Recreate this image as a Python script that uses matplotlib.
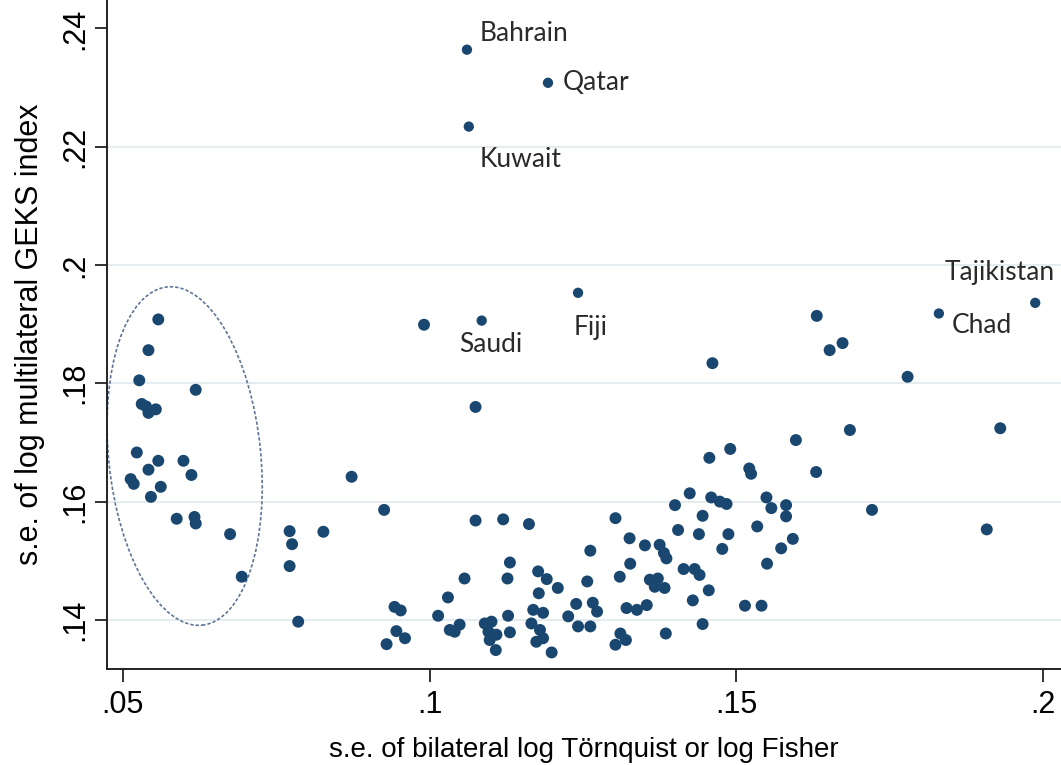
import matplotlib
matplotlib.use("Agg")
import matplotlib.pyplot as plt
from matplotlib import transforms
from matplotlib.patches import Ellipse

# s.e. of bilateral log Tornquist / Fisher (x) vs s.e. of log GEKS index (y)
se_bilateral = [
    # circled low-variance group
    .0558, .0542, .0527, .0619, .0531, .0542, .0554, .0538, .0523, .0558, .0599,
    .0542, .0612, .0513, .0518, .0562, .0546, .0588, .0617, .0619, .0675, .0694,
    # middle
    .0873, .0926, .0772, .0776, .0827, .0772, .0786, .1075, .1120, .1162, .1131,
    .1127, .1057, .1030, .1177, .1191, .1209, .1178, .0943, .0953, .1014, .1128,
    .1169, .1185, .1226, .1239, .0946, .0960, .0930, .1033, .1049, .1041, .1090,
    .1101, .1096, .1109, .1131, .1098, .1108, .1166, .1180, .1174, .1185, .1199,
    .1242, .0991, .1075,
    # right
    .1685, .1597, .1630, .1490, .1456, .1521, .1524, .1424, .1400, .1459, .1473,
    .1484, .1549, .1557, .1581, .1581, .1445, .1303, .1405, .1439, .1487, .1534,
    .1592, .1573, .1477, .1262, .1326, .1351, .1375, .1382, .1386, .1550, .1327,
    .1310, .1414, .1432, .1440, .1257, .1359, .1372, .1367, .1383, .1455, .1429,
    .1514, .1541, .1266, .1273, .1321, .1338, .1354, .1262, .1445, .1311, .1385,
    .1303, .1320, .1673, .1779, .1930, .1721, .1908, .1631, .1652, .1461,
]
se_geks = [
    .1908, .1856, .1805, .1789, .1765, .1750, .1756, .1761, .1683, .1669, .1669,
    .1654, .1645, .1638, .1630, .1625, .1608, .1571, .1574, .1563, .1545, .1473,
    .1642, .1586, .1550, .1528, .1549, .1491, .1397, .1568, .1570, .1562, .1497,
    .1470, .1470, .1438, .1482, .1469, .1454, .1445, .1422, .1416, .1407, .1407,
    .1417, .1412, .1406, .1427, .1381, .1369, .1359, .1383, .1392, .1380, .1394,
    .1397, .1380, .1375, .1379, .1366, .1349, .1394, .1383, .1363, .1369, .1345,
    .1389, .1899, .1760,
    .1721, .1704, .1650, .1689, .1674, .1656, .1647, .1614, .1594, .1607, .1600,
    .1596, .1607, .1589, .1594, .1575, .1576, .1572, .1552, .1545, .1545, .1558,
    .1537, .1521, .1520, .1517, .1538, .1526, .1527, .1513, .1504, .1495, .1495,
    .1473, .1486, .1486, .1476, .1465, .1468, .1470, .1456, .1454, .1450, .1433,
    .1424, .1424, .1429, .1414, .1420, .1417, .1425, .1389, .1393, .1377, .1377,
    .1358, .1366, .1868, .1811, .1724, .1586, .1553, .1914, .1856, .1834,
]

# named countries
countries = ["Bahrain", "Qatar", "Kuwait", "Fiji", "Saudi", "Tajikistan", "Chad"]
country_x = [.1061, .1193, .1064, .1242, .1085, .1987, .1830]
country_y = [.2364, .2308, .2234, .1953, .1906, .1936, .1918]
label_offsets = [(9, 12), (11, 0), (8, -24), (-3, -25), (-16, -17), (14, 22), (9, -9)]
label_ha = ["left", "left", "left", "left", "left", "right", "left"]

xticks = [.05, .1, .15, .2]
xtick_labels = [".05", ".1", ".15", ".2"]
yticks = [.14, .16, .18, .2, .22, .24]
ytick_labels = [".14", ".16", ".18", ".2", ".22", ".24"]
grid_y = [.14, .16, .18, .2, .22]

NAVY = "#1a476f"
AXFONT = ["Liberation Sans Narrow", "Liberation Sans", "DejaVu Sans"]

fig = plt.figure(figsize=(10.61, 7.65), dpi=100)
ax = fig.add_axes([0.1006, 0.1255, 0.8994, 0.8745])

for g in grid_y:
    ax.axhline(g, color="#e4ecef", linewidth=1.4, zorder=0)

ax.scatter(se_bilateral, se_geks, s=74, color=NAVY, edgecolors="none", zorder=3)
ax.scatter(country_x, country_y, s=55, color=NAVY, edgecolors="none", zorder=3)

for name, x, y, off, ha in zip(countries, country_x, country_y, label_offsets, label_ha):
    ax.annotate(name, (x, y), xytext=off, textcoords="offset points",
                ha=ha, va="center", fontsize=19, color="#2a2a2a", family="Lato")

# dashed ellipse round the low-variance group
cx, cy = .0601, .1677
trans = fig.dpi_scale_trans + transforms.ScaledTranslation(cx, cy, ax.transData)
ax.add_patch(Ellipse((0, 0), 1.52, 3.40, angle=5.9, transform=trans, fill=False,
                     edgecolor="#5f7596", linewidth=1.2, linestyle=(0, (2.0, 1.2)),
                     zorder=2))

ax.set_xlim(.0474, .2029)
ax.set_ylim(.1317, .2448)
ax.set_xticks(xticks)
ax.set_xticklabels(xtick_labels, family=AXFONT, fontsize=22)
ax.set_yticks(yticks)
ax.set_yticklabels(ytick_labels, family=AXFONT, fontsize=22, rotation=90, va="center")
ax.tick_params(axis="both", length=9, width=1.3, color="#222222")
ax.tick_params(axis="x", pad=6)
ax.tick_params(axis="y", pad=3)

for side in ["top", "right"]:
    ax.spines[side].set_visible(False)
for side in ["left", "bottom"]:
    ax.spines[side].set_linewidth(1.4)
    ax.spines[side].set_color("#222222")

ax.set_xlabel("s.e. of bilateral log Törnquist or log Fisher", family=AXFONT,
              fontsize=20, va="center")
ax.set_ylabel("s.e. of log multilateral GEKS index", family=AXFONT,
              fontsize=22, va="center")
ax.xaxis.set_label_coords(0.5, -0.121)
ax.yaxis.set_label_coords(-0.0804, 0.5)

fig.savefig("out.png", dpi=100, facecolor="white")
